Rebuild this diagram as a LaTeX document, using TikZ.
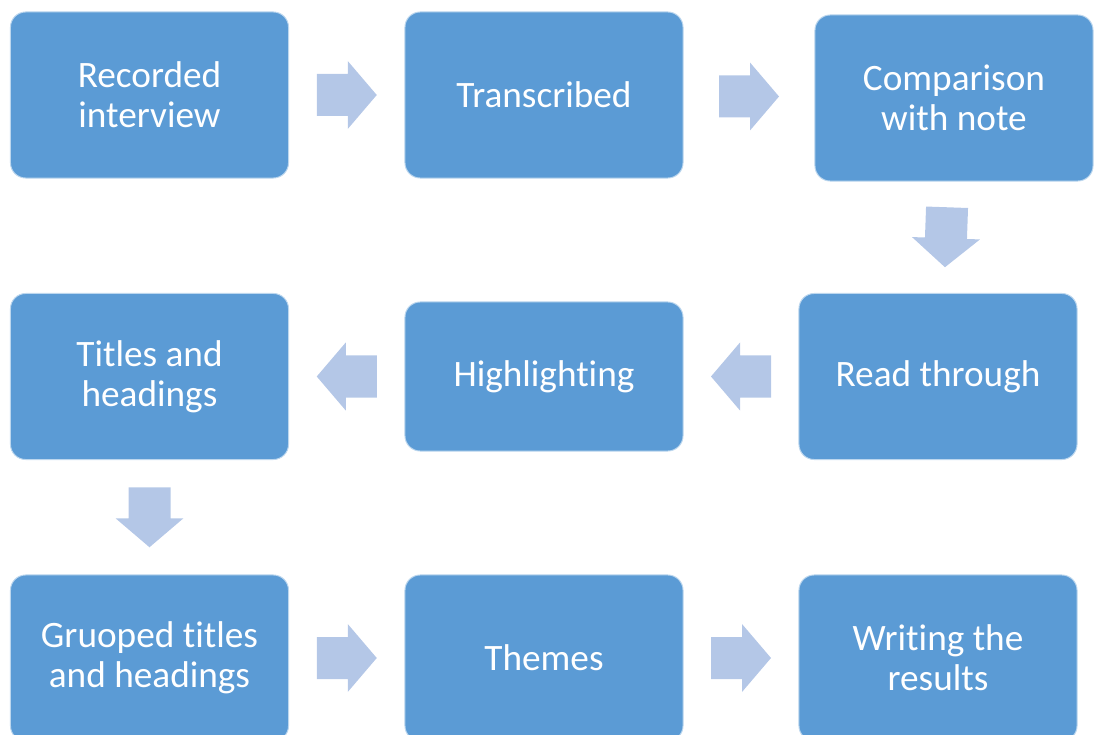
\documentclass[tikz,border=0pt]{standalone}
\usepackage{fontspec}
\setmainfont{Carlito}[Ligatures={NoCommon,NoContextual,NoRequired}]
\usetikzlibrary{calc}
\definecolor{boxblue}{HTML}{5B9BD5}
\definecolor{arrowblue}{HTML}{B4C7E7}
\newcommand{\tipair}{t\kern0pt i}
\tikzset{
  stage/.style={fill=boxblue, draw=white!60!boxblue, line width=0.7pt, rounded corners=0.38cm,
    text=white, align=center, font=\fontsize{26.5}{28.5}\selectfont,
    minimum width=6.95cm, minimum height=4.15cm, inner sep=0pt},
  flow/.pic={\fill[arrowblue] (-30,-21) -- (1,-21) -- (1,-34) -- (30,0) -- (1,34) -- (1,21) -- (-30,21) -- cycle;}
}
\begin{document}
\begin{tikzpicture}[x=0.025cm, y=-0.025cm]
    \useasboundingbox (0,0) rectangle (1094,735);
    % first row
    \node[stage] (rec) at (149.5,95) {Recorded\\interview};
    \node[stage] (tra) at (544,95) {Transcribed};
    \node[stage] (com) at (954,98) {Comparison\\with note};
    % second row
    \node[stage] (tit) at (149.5,376.5) {Titles and\\headings};
    \node[stage, minimum height=3.725cm] (hig) at (544,376.5) {Highligh\tipair ng};
    \node[stage] (rea) at (938,376.5) {Read through};
    % third row
    \node[stage] (gro) at (149.5,658) {Gruoped \tipair tles\\and headings};
    \node[stage] (the) at (544,658) {Themes};
    \node[stage] (wri) at (938,658) {Wri\tipair ng the\\results};
    % block arrows
    \pic at ($(rec.east)!0.5!(tra.west)$) {flow};
    \pic at ($(tra.east)!0.5!(com.west)$) {flow};
    \pic[rotate=-92] at ($(com.south)!0.5!(rea.north)$) {flow};
    \pic[rotate=180] at ($(rea.west)!0.5!(hig.east)$) {flow};
    \pic[rotate=180] at ($(hig.west)!0.5!(tit.east)$) {flow};
    \pic[rotate=-90] at ($(tit.south)!0.5!(gro.north)$) {flow};
    \pic at ($(gro.east)!0.5!(the.west)$) {flow};
    \pic at ($(the.east)!0.5!(wri.west)$) {flow};
\end{tikzpicture}
\end{document}
